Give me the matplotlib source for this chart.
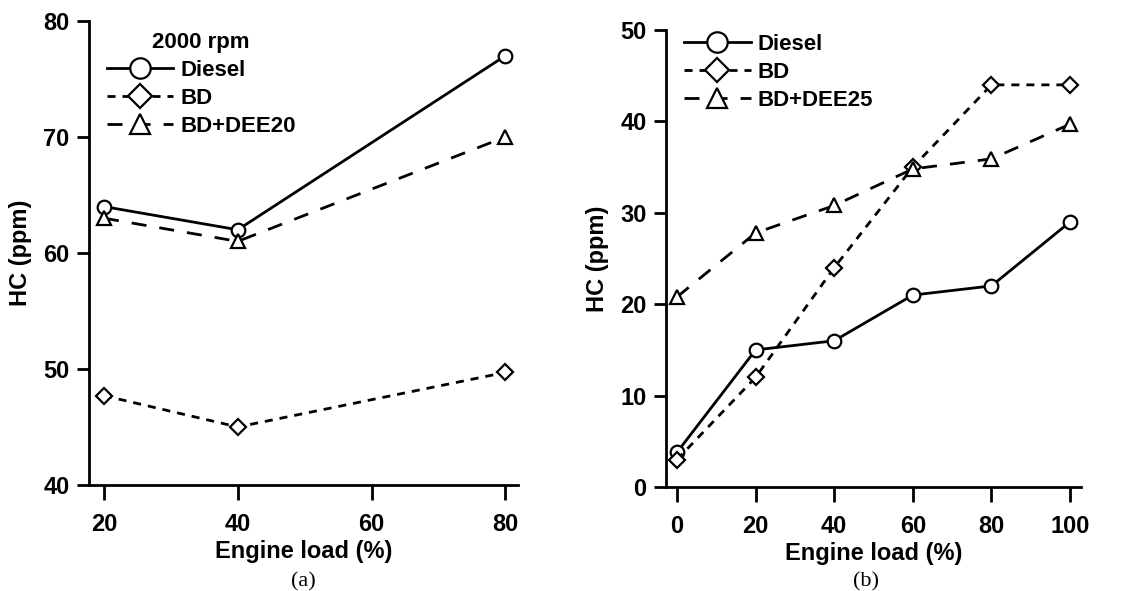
import matplotlib
matplotlib.use("Agg")
from matplotlib import pyplot as plt

plt.rcParams['font.family'] = ['Liberation Sans', 'DejaVu Sans']
plt.rcParams['font.weight'] = 'bold'

# panel (a): 2000 rpm
load_a = [20, 40, 80]
diesel_a = [64, 62, 77]
bd_a = [47.7, 45, 49.7]
dee20_a = [63, 61, 70]

# panel (b)
load_b = [0, 20, 40, 60, 80, 100]
diesel_b = [3.8, 15, 16, 21, 22, 29]
bd_b = [3, 12, 24, 35, 44, 44]
dee25_b = [20.8, 27.8, 30.8, 34.8, 35.9, 39.7]

fig = plt.figure(figsize=(11.36, 5.91), dpi=100)
ax1 = fig.add_axes([0.0783, 0.1794, 0.3777, 0.7851])
ax2 = fig.add_axes([0.5863, 0.1760, 0.3653, 0.7732])

short_dash = (0, (2.9, 2.5))
long_dash = (0, (5.4, 4.7))


def style(ax):
    for s in ["top", "right"]:
        ax.spines[s].set_visible(False)
    for s in ["left", "bottom"]:
        ax.spines[s].set_linewidth(2)
    ax.tick_params(width=2, labelsize=17)
    ax.tick_params(axis="x", length=11, pad=9)
    ax.tick_params(axis="y", length=9, pad=5)
    for lab in ax.get_xticklabels() + ax.get_yticklabels():
        lab.set_fontweight('bold')
    ax.set_xlabel("Engine load (%)", fontsize=17, fontweight='bold', labelpad=3)
    ax.set_ylabel("HC (ppm)", fontsize=17, fontweight='bold', labelpad=8)


mk = dict(color="black", mfc="white", mec="black", lw=2, mew=1.6)

ax1.plot(load_a, diesel_a, "-", marker="o", ms=9.8, label="Diesel", **mk)
ax1.plot(load_a, bd_a, linestyle=short_dash, marker="D", ms=8, label="BD", **mk)
ax1.plot(load_a, dee20_a, linestyle=long_dash, marker="^", ms=9.6, label="BD+DEE20", **mk)
ax1.set_xlim(17.75, 81.9)
ax1.set_ylim(40, 80)
ax1.set_xticks([20, 40, 60, 80])
ax1.set_yticks([40, 50, 60, 70, 80])
style(ax1)
leg1 = ax1.legend(title="2000 rpm", loc="upper left", bbox_to_anchor=(-0.005, 1.02),
                  frameon=False, handlelength=3.0, labelspacing=0.32,
                  handletextpad=0.3, markerscale=1.5,
                  prop={'weight': 'bold', 'size': 16})
leg1.get_title().set_fontweight('bold')
leg1.get_title().set_fontsize(16)

ax2.plot(load_b, diesel_b, "-", marker="o", ms=9.8, label="Diesel", **mk)
ax2.plot(load_b, bd_b, linestyle=short_dash, marker="D", ms=8, label="BD", **mk)
ax2.plot(load_b, dee25_b, linestyle=long_dash, marker="^", ms=9.6, label="BD+DEE25", **mk)
ax2.set_xlim(-2.8, 102.8)
ax2.set_ylim(0, 50)
ax2.set_xticks([0, 20, 40, 60, 80, 100])
ax2.set_yticks([0, 10, 20, 30, 40, 50])
style(ax2)
ax2.legend(loc="upper left", bbox_to_anchor=(-0.005, 1.035), frameon=False,
           handlelength=3.0, labelspacing=0.32, handletextpad=0.3,
           markerscale=1.5, prop={'weight': 'bold', 'size': 16})

fig.text(0.267, 0.0, "(a)", family="Liberation Serif", fontweight="normal",
         fontsize=16, ha="center", va="bottom")
fig.text(0.762, 0.0, "(b)", family="Liberation Serif", fontweight="normal",
         fontsize=16, ha="center", va="bottom")

fig.savefig("out.png", dpi=100)
